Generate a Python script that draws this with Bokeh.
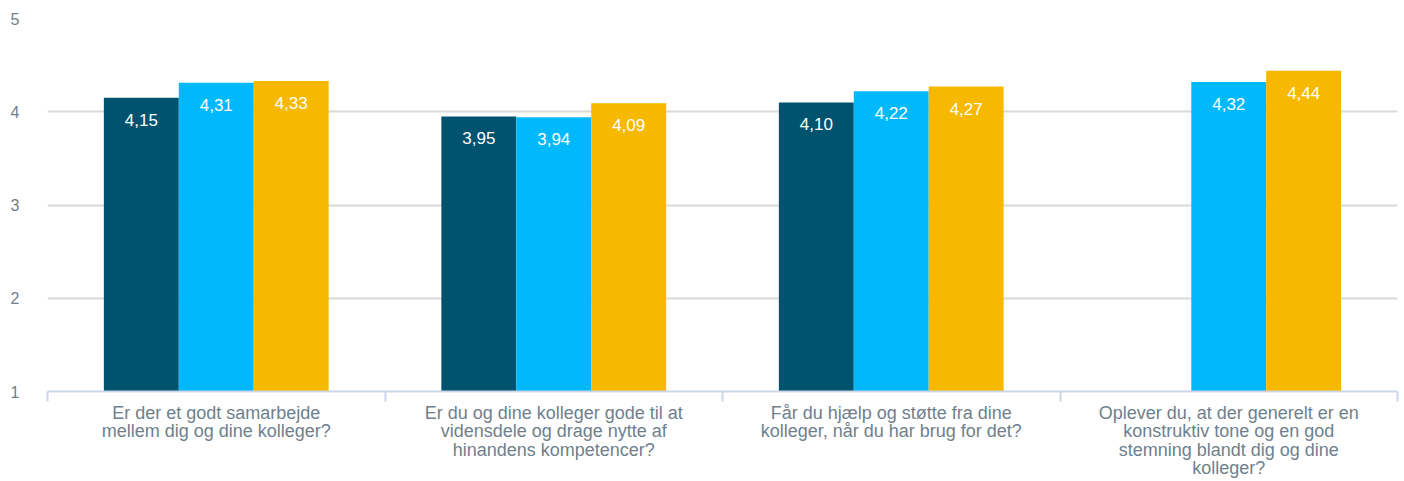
from bokeh.plotting import figure
from bokeh.models import ColumnDataSource, FixedTicker, Range1d
from bokeh.core.properties import value
from bokeh.embed import file_html
from bokeh.resources import INLINE

categories = [
    "Er der et godt samarbejde\nmellem dig og dine kolleger?",
    "Er du og dine kolleger gode til at\nvidensdele og drage nytte af\nhinandens kompetencer?",
    "Får du hjælp og støtte fra dine\nkolleger, når du har brug for det?",
    "Oplever du, at der generelt er en\nkonstruktiv tone og en god\nstemning blandt dig og dine\nkolleger?",
]
series_a = [4.15, 3.95, 4.10, None]
series_b = [4.31, 3.94, 4.22, 4.32]
series_c = [4.33, 4.09, 4.27, 4.44]
y_ticks = [1, 2, 3, 4, 5]

colors = ["#00536f", "#00b9fc", "#f7b800"]
FONT = "Liberation Sans"
GRAY = "#6f7f8c"

p = figure(width=1404, height=481, output_backend="svg", toolbar_location=None,
           x_range=Range1d(0, 4), y_range=Range1d(1, 5),
           min_border_left=47, min_border_right=7, min_border_top=18, min_border_bottom=90)
p.outline_line_color = None
p.background_fill_color = "white"

bw = 0.222
offsets = [-bw, 0.0, bw]
for vals, col, off in zip([series_a, series_b, series_c], colors, offsets):
    xs, tops, labels = [], [], []
    for i, v in enumerate(vals):
        if v is None:
            continue
        xs.append(i + 0.5 + off)
        tops.append(v)
        labels.append(f"{v:.2f}".replace(".", ","))
    src = ColumnDataSource(dict(x=xs, top=tops, label=labels))
    p.vbar(x="x", top="top", bottom=1, width=bw, color=col, line_color=None, source=src)
    p.text(x="x", y="top", text="label", source=src, y_offset=22,
           text_align="center", text_baseline="middle", text_color="white",
           text_font=value(FONT), text_font_size="17px")

# y axis
p.yaxis.ticker = FixedTicker(ticks=y_ticks)
p.yaxis.axis_line_color = None
p.yaxis.major_tick_line_color = None
p.yaxis.minor_tick_line_color = None
p.yaxis.major_tick_out = 0
p.yaxis.major_tick_in = 0
p.yaxis.major_label_standoff = 28
p.yaxis.major_label_text_font = FONT
p.yaxis.major_label_text_font_size = "16px"
p.yaxis.major_label_text_color = GRAY
p.ygrid.ticker = FixedTicker(ticks=y_ticks)
p.ygrid.grid_line_color = "#d9d9d9"
p.ygrid.grid_line_width = 2

# x axis
p.xgrid.grid_line_color = None
centers = [i + 0.5 for i in range(len(categories))]
p.xaxis.ticker = FixedTicker(ticks=centers, minor_ticks=list(range(len(categories) + 1)))
p.xaxis.major_label_overrides = {c: lab for c, lab in zip(centers, categories)}
p.xaxis.axis_line_color = "#ccd6eb"
p.xaxis.axis_line_width = 2
p.xaxis.major_tick_line_color = None
p.xaxis.major_tick_out = 0
p.xaxis.major_tick_in = 0
p.xaxis.minor_tick_line_color = "#ccd6eb"
p.xaxis.minor_tick_line_width = 2
p.xaxis.minor_tick_out = 10
p.xaxis.minor_tick_in = 0
p.xaxis.major_label_standoff = 1
p.xaxis.major_label_text_font = FONT
p.xaxis.major_label_text_font_size = "18px"
p.xaxis.major_label_text_color = GRAY
p.xaxis.major_label_text_line_height = 0.93

open("out.html", "w").write(file_html(p, INLINE))
